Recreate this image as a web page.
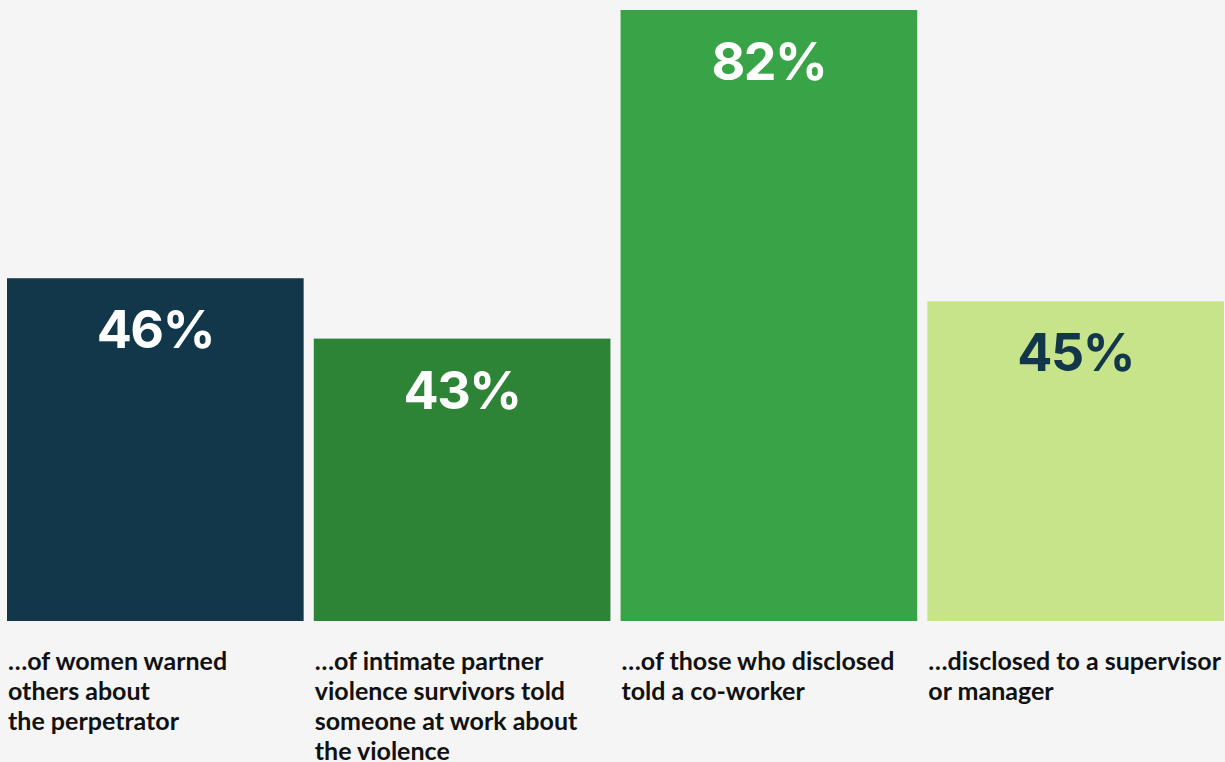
<!DOCTYPE html>
<html>
<head>
<meta charset="utf-8">
<script src="https://cdn.jsdelivr.net/npm/d3@7"></script>
<style>
  html, body { margin: 0; padding: 0; background: #f5f5f5; }
  svg { display: block; }
</style>
</head>
<body>
<div id="chart"></div>
<script>
// data
const categories = [
  ["…of women warned", "others about", "the perpetrator"],
  ["…of intimate partner", "violence survivors told", "someone at work about", "the violence"],
  ["…of those who disclosed", "told a co-worker"],
  ["…disclosed to a supervisor", "or manager"]
]
const valueLabels = ["46%", "43%", "82%", "45%"]
// bar heights as drawn (the second bar is drawn shorter than its label)
const barValues = [46, 37.9, 82, 42.9]
const barColors = ["#12374b", "#2d8436", "#39a447", "#c8e48a"]
const labelColors = ["#ffffff", "#ffffff", "#ffffff", "#12374b"]

const width = 1225
const height = 762
const baseY = 621
const topY = 10

const I = d3.range(categories.length)

const xScale = d3
  .scaleBand()
  .domain(I)
  .range([7, 1224])
  .paddingInner(0.033)
  .paddingOuter(0)

const yScale = d3
  .scaleLinear()
  .domain([0, 82])
  .range([baseY, topY])

const svg = d3
  .create("svg")
  .attr("viewBox", [0, 0, width, height])
  .attr("width", width)
  .attr("height", height)

svg
  .append("rect")
  .attr("width", width)
  .attr("height", height)
  .attr("fill", "#f5f5f5")

svg
  .append("g")
  .selectAll("rect")
  .data(I)
  .join("rect")
  .attr("x", i => xScale(i))
  .attr("y", i => yScale(barValues[i]))
  .attr("width", xScale.bandwidth())
  .attr("height", i => yScale(0) - yScale(barValues[i]))
  .attr("fill", i => barColors[i])

// value labels inside the bars
svg
  .append("g")
  .attr("text-anchor", "middle")
  .style("font-family", "Inter, 'Open Sans', sans-serif")
  .style("font-weight", 700)
  .style("font-size", "52px")
  .style("letter-spacing", "-1.5px")
  .selectAll("text")
  .data(I)
  .join("text")
  .attr("x", i => xScale(i) + xScale.bandwidth() / 2)
  .attr("y", i => yScale(barValues[i]) + 70)
  .attr("fill", i => labelColors[i])
  .text(i => valueLabels[i])

// category labels under the bars
svg
  .append("g")
  .style("font-family", "Lato, sans-serif")
  .style("font-weight", 700)
  .style("font-size", "25px")
  .attr("fill", "#111111")
  .selectAll("text")
  .data(I)
  .join("text")
  .attr("x", i => xScale(i) + 1)
  .attr("y", 670)
  .selectAll("tspan")
  .data(i => categories[i].map(line => ({ line, x: xScale(i) + 1 })))
  .join("tspan")
  .attr("x", d => d.x)
  .attr("dy", (d, j) => (j === 0 ? 0 : 30))
  .text(d => d.line)

document.querySelector("#chart").append(svg.node())
</script>
</body>
</html>
